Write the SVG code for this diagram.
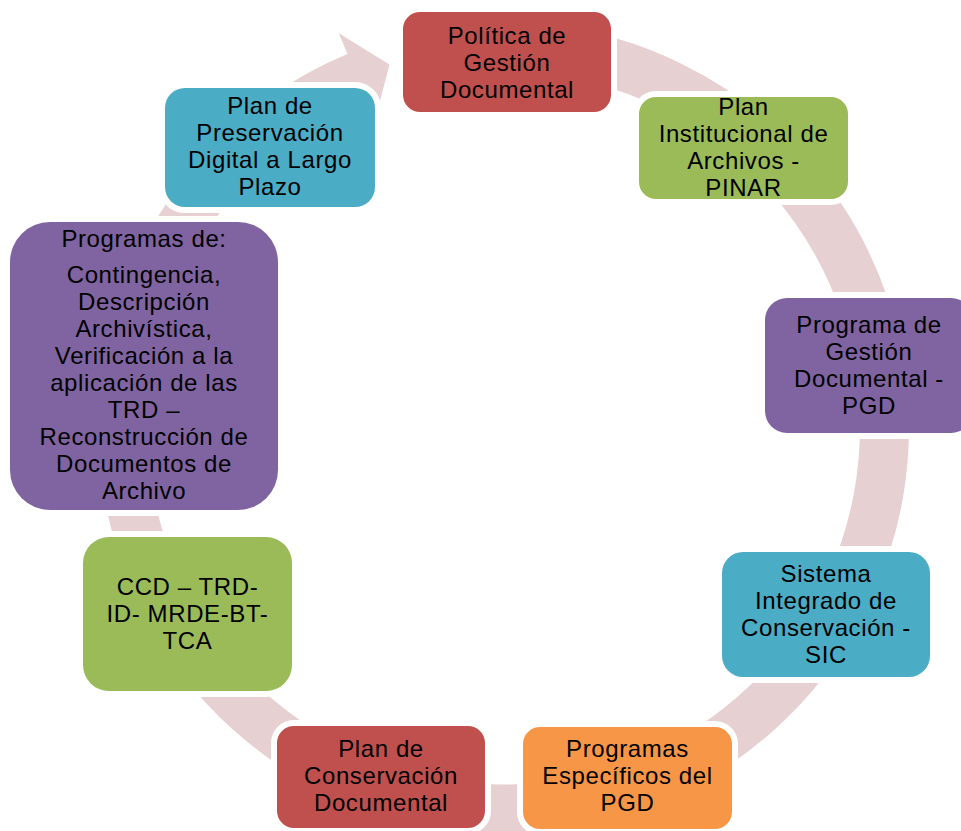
<svg xmlns="http://www.w3.org/2000/svg" width="961" height="831" viewBox="0 0 961 831">
<style>
.box{stroke:#FFFFFF;stroke-width:12;paint-order:stroke;}
.red{fill:#C0504D}.green{fill:#9BBB59}.purple{fill:#8064A2}.teal{fill:#4BACC6}.orange{fill:#F79646}
text{font-family:"Liberation Sans",Arial,sans-serif;font-size:24px;letter-spacing:0.6px;fill:#000000;text-anchor:middle}
.ring{fill:none;stroke:#E7D0D1;stroke-width:49;stroke-linecap:butt}
</style>
<rect width="961" height="831" fill="#FFFFFF"/>
<g id="connectors">
<path class="ring" d="M 537.2 48.5 A 381 381 0 0 1 504 809 A 381 381 0 0 1 364.4 73.5"/>
<polygon points="338.8,33.2 389.4,64.6 375.1,119.9" fill="#E7D0D1"/>
</g>
<g id="n1">
<rect class="box red" x="403" y="12" width="208" height="100" rx="17"/>
<text x="507" y="44">Política de</text>
<text x="507" y="71">Gestión</text>
<text x="507" y="98">Documental</text>
</g>
<g id="n2">
<rect class="box green" x="639" y="97" width="209" height="102" rx="17"/>
<text x="743.5" y="115">Plan</text>
<text x="743.5" y="142">Institucional de</text>
<text x="743.5" y="169">Archivos -</text>
<text x="743.5" y="196">PINAR</text>
</g>
<g id="n3">
<rect class="box purple" x="765" y="298" width="208" height="135" rx="22"/>
<text x="869" y="333">Programa de</text>
<text x="869" y="360">Gestión</text>
<text x="869" y="387">Documental -</text>
<text x="869" y="414">PGD</text>
</g>
<g id="n4">
<rect class="box teal" x="722" y="552" width="208" height="125" rx="21"/>
<text x="826" y="582">Sistema</text>
<text x="826" y="609">Integrado de</text>
<text x="826" y="636">Conservación -</text>
<text x="826" y="663">SIC</text>
</g>
<g id="n5">
<rect class="box orange" x="523" y="727" width="209" height="102" rx="17"/>
<text x="627.5" y="757">Programas</text>
<text x="627.5" y="784">Específicos del</text>
<text x="627.5" y="811">PGD</text>
</g>
<g id="n6">
<rect class="box red" x="277" y="726" width="208" height="102" rx="17"/>
<text x="381" y="757">Plan de</text>
<text x="381" y="784">Conservación</text>
<text x="381" y="811">Documental</text>
</g>
<g id="n7">
<rect class="box green" x="83" y="537" width="209" height="154" rx="26"/>
<text x="187.5" y="595">CCD – TRD-</text>
<text x="187.5" y="622">ID- MRDE-BT-</text>
<text x="187.5" y="649">TCA</text>
</g>
<g id="n8">
<rect class="box purple" x="10" y="222" width="268" height="288" rx="40"/>
<text x="144" y="247">Programas de:</text>
<text x="144" y="283">Contingencia,</text>
<text x="144" y="310">Descripción</text>
<text x="144" y="337">Archivística,</text>
<text x="144" y="364">Verificación a la</text>
<text x="144" y="391">aplicación de las</text>
<text x="144" y="418">TRD –</text>
<text x="144" y="445">Reconstrucción de</text>
<text x="144" y="472">Documentos de</text>
<text x="144" y="499">Archivo</text>
</g>
<g id="n9">
<rect class="box teal" x="165" y="88" width="210" height="119" rx="20"/>
<text x="270" y="114">Plan de</text>
<text x="270" y="141">Preservación</text>
<text x="270" y="168">Digital a Largo</text>
<text x="270" y="195">Plazo</text>
</g>
</svg>
